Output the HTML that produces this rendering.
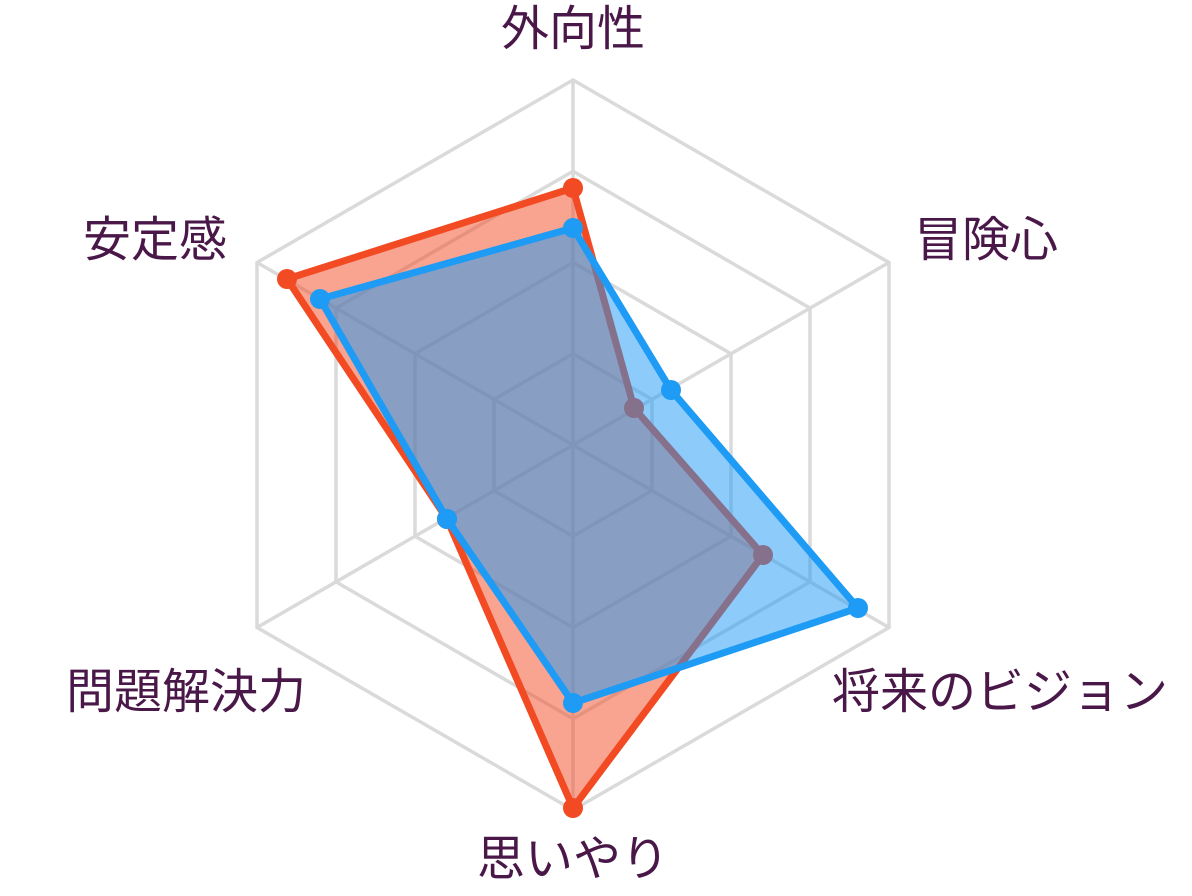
<!DOCTYPE html>
<html><head><meta charset="utf-8"><style>
html,body{margin:0;padding:0;background:#fff;}
svg text{font-family:"Liberation Sans","Noto Sans CJK JP",sans-serif;font-size:48px;fill:#4a1848;}
</style></head><body>
<svg width="1192" height="891" viewBox="0 0 1192 891" xmlns="http://www.w3.org/2000/svg">
<g fill="none" stroke="#dadada" stroke-width="3.5">
<polygon points="573,80 889,262.5 889,627.5 573,810 257,627.5 257,262.5"/>
<polygon points="573,171.25 810,308.1 810,581.9 573,718.75 336,581.9 336,308.1"/>
<polygon points="573,262.5 731,353.75 731,536.25 573,627.5 415,536.25 415,353.75"/>
<polygon points="573,353.75 652,399.4 652,490.6 573,536.25 494,490.6 494,399.4"/>
<line x1="573" y1="80" x2="573" y2="810"/>
<line x1="889" y1="262.5" x2="257" y2="627.5"/>
<line x1="889" y1="627.5" x2="257" y2="262.5"/>
</g>
<polygon points="573,188 634,408 763,555 573,808 447,519 287,279" fill="rgba(242,74,36,0.5)" stroke="#f24a22" stroke-width="7" stroke-linejoin="round"/>
<g fill="#f24a22">
<circle cx="573" cy="188" r="10"/><circle cx="634" cy="408" r="10"/><circle cx="763" cy="555" r="10"/>
<circle cx="573" cy="808" r="10"/><circle cx="447" cy="519" r="10"/><circle cx="287" cy="279" r="10"/>
</g>
<polygon points="573,228 671,390 858,608 573,703 447,519 320,299" fill="rgba(26,151,246,0.5)" stroke="#1e9bf5" stroke-width="7" stroke-linejoin="round"/>
<g fill="#1e9bf5">
<circle cx="573" cy="228" r="10"/><circle cx="671" cy="390" r="10"/><circle cx="858" cy="608" r="10"/>
<circle cx="573" cy="703" r="10"/><circle cx="447" cy="519" r="10"/><circle cx="320" cy="299" r="10"/>
</g>
<text x="573" y="45" text-anchor="middle">外向性</text>
<text x="914" y="256">冒険心</text>
<text x="832" y="708">将来のビジョン</text>
<text x="573" y="875" text-anchor="middle">思いやり</text>
<text x="306" y="708" text-anchor="end">問題解決力</text>
<text x="227" y="256" text-anchor="end">安定感</text>
</svg>
</body></html>
